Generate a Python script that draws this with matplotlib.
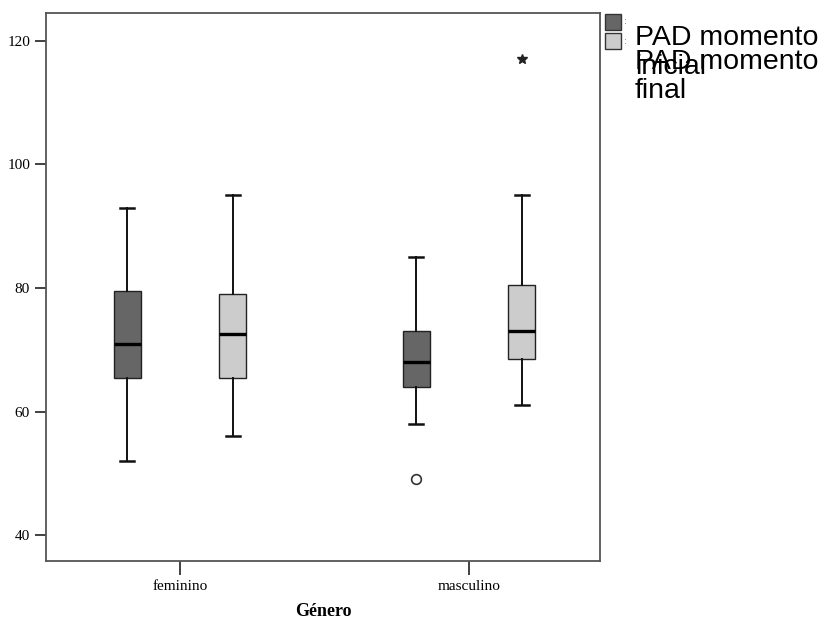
import matplotlib.pyplot as plt
from matplotlib.patches import Rectangle

# categorias e resumo dos boxplots
generos = ['feminino', 'masculino']
series = ['PAD momento\ninicial', 'PAD momento\nfinal']
cores = ['#666666', '#cccccc']

inicial_min = [52, 58]
inicial_q1 = [65.5, 64]
inicial_med = [71, 68]
inicial_q3 = [79.5, 73]
inicial_max = [93, 85]

final_min = [56, 61]
final_q1 = [65.5, 68.5]
final_med = [72.5, 73]
final_q3 = [79, 80.5]
final_max = [95, 95]

# valores atípicos: (grupo, série, valor, tipo)
outliers = [(1, 0, 49, 'o'), (1, 1, 117, '*')]

resumo = [
    (inicial_min, inicial_q1, inicial_med, inicial_q3, inicial_max),
    (final_min, final_q1, final_med, final_q3, final_max),
]

plt.rcParams['font.family'] = ['Liberation Serif', 'DejaVu Serif']

fig = plt.figure(figsize=(8.28, 6.21), dpi=100)
ax = fig.add_axes([0.0556, 0.0966, 0.669, 0.8824])

desloc = [-0.183, 0.183]
largura = 0.093

for s, (lo, q1, med, q3, hi) in enumerate(resumo):
    stats = []
    for g in range(len(generos)):
        stats.append(dict(whislo=lo[g], q1=q1[g], med=med[g], q3=q3[g],
                          whishi=hi[g], fliers=[]))
    pos = [g + desloc[s] for g in range(len(generos))]
    ax.bxp(stats, positions=pos, widths=largura, patch_artist=True,
           showfliers=False,
           boxprops=dict(facecolor=cores[s], edgecolor='#222222', linewidth=1.0),
           medianprops=dict(color='black', linewidth=2.4),
           whiskerprops=dict(color='#111111', linewidth=1.4),
           capprops=dict(color='#111111', linewidth=1.8),
           capwidths=largura * 0.5)

for g, s, v, m in outliers:
    if m == 'o':
        ax.plot(g + desloc[s], v, marker='o', markersize=7, mfc='white',
                mec='#333333', mew=1.2, linestyle='none')
    else:
        ax.plot(g + desloc[s], v, marker='*', markersize=7, color='#222222',
                linestyle='none')

ax.set_xlim(-0.4637, 1.453)
ax.set_ylim(35.8, 124.5)
ax.set_yticks([40, 60, 80, 100, 120])
ax.set_xticks(range(len(generos)))
ax.set_xticklabels(generos, fontsize=11)
ax.tick_params(axis='y', labelsize=11, length=8, width=1.3, color='#333333')
ax.tick_params(axis='x', length=10, width=1.3, color='#333333', pad=4)
for sp in ax.spines.values():
    sp.set_color('#555555')
    sp.set_linewidth(1.3)
ax.set_xlabel('Género', fontsize=13, fontweight='bold', labelpad=7)

# legenda desenhada à mão, como no original (textos sobrepostos)
W, H = 828, 621
topos_caixa = [14, 33]
topos_texto = [25, 49]
for i, nome in enumerate(series):
    fig.patches.append(Rectangle((605 / W, 1 - (topos_caixa[i] + 16) / H), 16 / W, 16 / H,
                                 transform=fig.transFigure, facecolor=cores[i],
                                 edgecolor='#333333', linewidth=1.0))
    fig.text(624 / W, 1 - (topos_caixa[i] + 8) / H, ':', fontsize=6, color='#555555',
             va='center', family='DejaVu Sans')
    fig.text(635 / W, 1 - topos_texto[i] / H, nome, fontsize=20.5,
             family=['Liberation Sans', 'DejaVu Sans'], va='top',
             linespacing=1.15)

fig.savefig('out.png', dpi=100)
